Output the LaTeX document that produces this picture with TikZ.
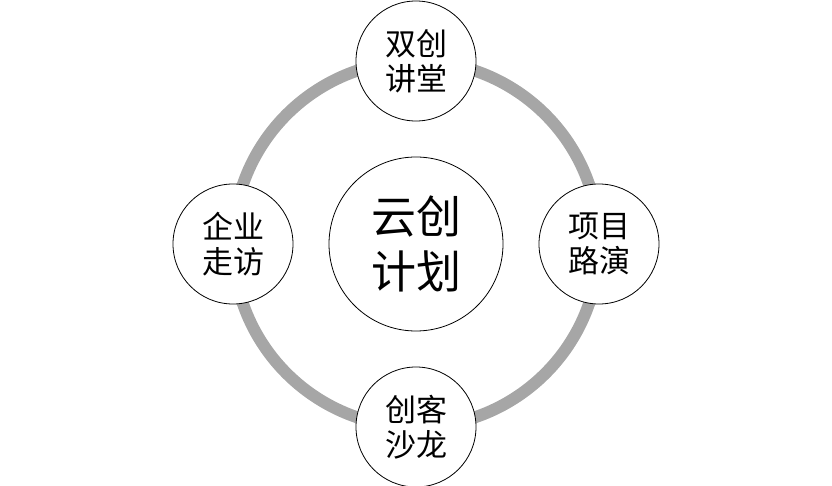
\documentclass[tikz,border=0pt]{standalone}
\usepackage{fontspec}
\newfontfamily\cjk{Noto Sans CJK SC}
\definecolor{RingGray}{RGB}{166,166,166}
\usetikzlibrary{positioning}

\begin{document}
\begin{tikzpicture}[x=1pt,y=-1pt,
  topic/.style={draw,circle,thick,fill=white,minimum size=120pt,inner sep=0pt,
              font=\cjk\fontsize{31}{35}\selectfont,align=center},
  hub/.style={draw,circle,thick,fill=white,minimum size=174pt,inner sep=0pt,
              font=\cjk\fontsize{45}{55}\selectfont,align=center}]
  \useasboundingbox (0,0) rectangle (832,486);
  % grey ring behind the four topics
  \coordinate (O) at (416,244);
  \draw[RingGray,line width=12pt] (O) circle (183pt);
  \node[hub] (plan) at (O) {云创\\计划};
  \node[topic] (talk) at (416,61) {双创\\讲堂};
  \node[topic] (show) at (599,244) {项目\\路演};
  \node[topic] (salon) at (416,427) {创客\\沙龙};
  \node[topic] (visit) at (233,244) {企业\\走访};
\end{tikzpicture}
\end{document}
